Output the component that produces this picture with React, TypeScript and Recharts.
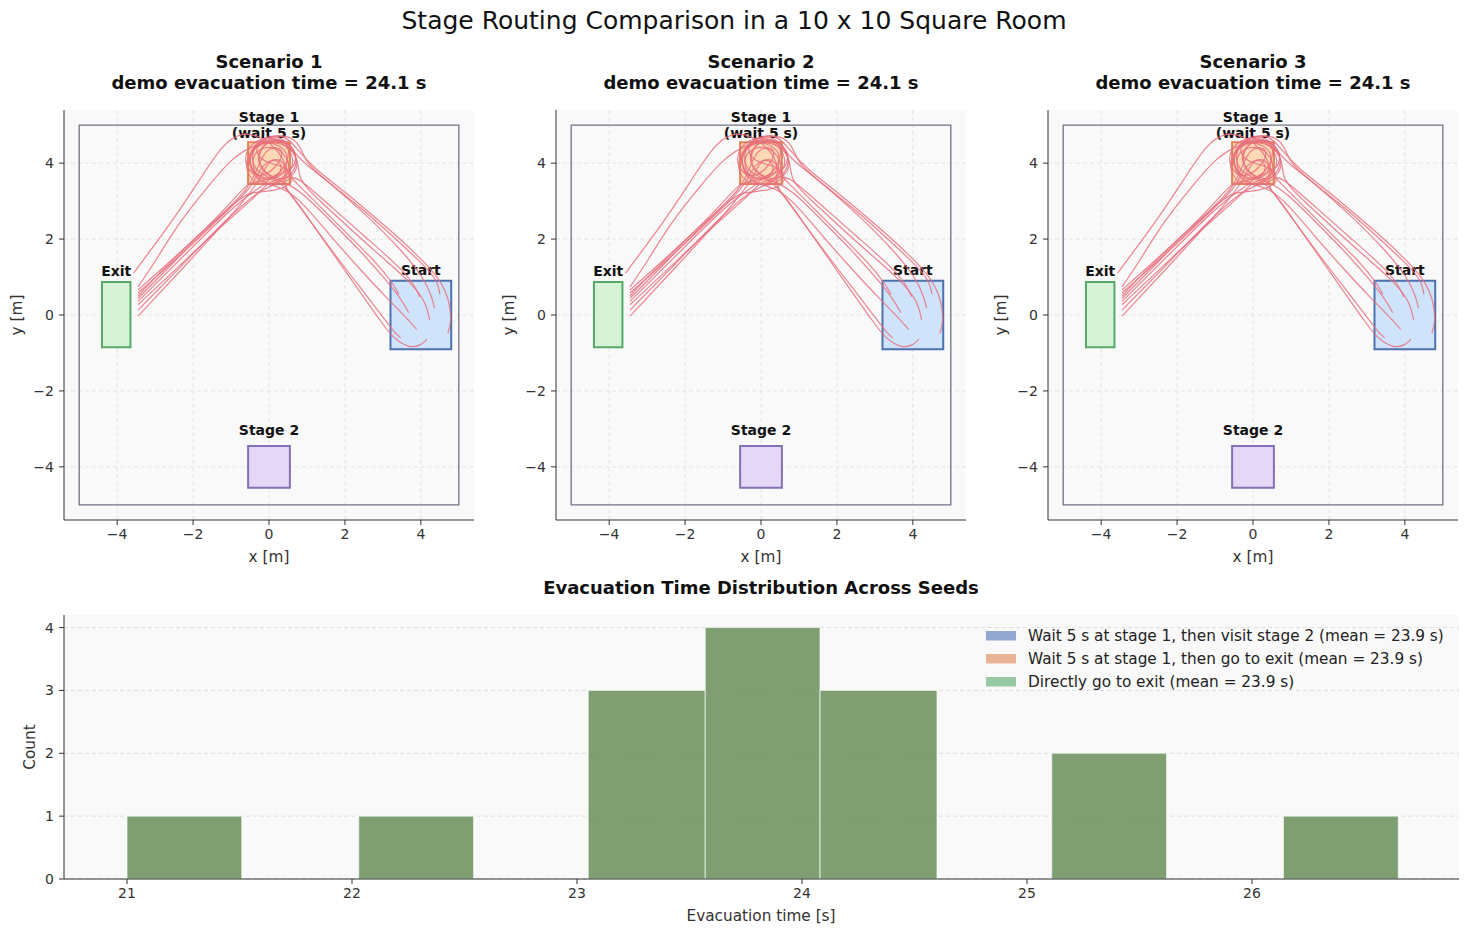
import React from 'react';
import { ComposedChart, Line, XAxis, YAxis, CartesianGrid, ReferenceArea } from 'recharts';

// ---- room panels ----
const SCENARIOS = ['Scenario 1', 'Scenario 2', 'Scenario 3'];
const DEMO_TIMES = [24.1, 24.1, 24.1];
const ROOM_TICKS = [-4, -2, 0, 2, 4];

// zone extents in metres: [x1, x2, y1, y2]
const ZONE_NAMES = ['start', 'exit', 'stage1', 'stage2'];
const ZONE_EXTENTS = [
  [3.2, 4.8, -0.9, 0.9],
  [-4.4, -3.65, -0.85, 0.87],
  [-0.55, 0.55, 3.45, 4.55],
  [-0.55, 0.55, -4.55, -3.45],
];
const ZONE_LABELS = [['Start'], ['Exit'], ['Stage 1', '(wait 5 s)'], ['Stage 2']];

// agent trajectories of the demo run, [x, y] in metres
const TRAJECTORIES: number[][][] = [
  [[4.71, -0.48], [4.8, -0.2], [4.77, 0.3], [4.55, 0.9], [3.9, 1.6], [3.0, 2.4], [2.0, 3.25], [1.2, 3.85], [0.75, 4.35], [0.4, 4.8], [-0.3, 4.65], [-0.65, 4.05], [-0.2, 3.5], [0.55, 3.7], [0.3, 4.3], [-0.25, 4.75], [-0.8, 4.8], [-1.25, 4.45], [-1.8, 3.6], [-2.6, 2.4], [-3.2, 1.6], [-3.57, 1.1]],
  [[4.36, 0.18], [4.3, 0.45], [4.1, 0.95], [3.5, 1.7], [2.6, 2.6], [1.7, 3.4], [1.0, 3.95], [0.7, 4.2], [0.45, 4.7], [-0.2, 4.55], [-0.35, 3.9], [0.35, 3.45], [0.85, 3.85], [0.6, 4.45], [0.0, 4.6], [-0.55, 4.4], [-1.0, 4.1], [-1.6, 3.4], [-2.4, 2.4], [-3.0, 1.4], [-3.45, 0.74]],
  [[4.5, 0.55], [4.45, 0.85], [4.2, 1.2], [3.4, 1.95], [2.4, 2.85], [1.5, 3.55], [0.95, 4.0], [0.8, 4.6], [0.25, 4.8], [-0.45, 4.5], [-0.2, 4.0], [0.45, 3.95], [0.75, 3.5], [0.15, 3.25], [-0.5, 3.25], [-0.85, 3.0], [-1.6, 2.35], [-2.5, 1.5], [-3.45, 0.66]],
  [[3.42, 0.55], [3.25, 0.85], [2.9, 1.3], [2.2, 2.0], [1.4, 2.8], [0.7, 3.5], [0.35, 3.85], [0.65, 4.45], [0.1, 4.75], [-0.55, 4.35], [-0.65, 3.7], [-0.15, 3.35], [0.55, 3.6], [0.35, 4.2], [-0.2, 4.0], [-0.4, 3.4], [-1.2, 2.65], [-2.3, 1.6], [-3.45, 0.58]],
  [[3.97, 0.48], [3.8, 0.85], [3.4, 1.3], [2.6, 2.0], [1.7, 2.8], [0.9, 3.5], [0.6, 3.7], [0.3, 3.35], [-0.4, 3.5], [-0.6, 4.25], [-0.05, 4.65], [0.6, 4.3], [0.35, 3.7], [-0.25, 3.5], [-0.55, 3.5], [-1.0, 2.95], [-2.0, 1.95], [-2.9, 1.1], [-3.45, 0.5]],
  [[4.23, -0.13], [4.15, 0.3], [3.8, 0.8], [3.0, 1.5], [2.1, 2.3], [1.3, 3.05], [0.75, 3.55], [0.8, 4.15], [0.35, 4.65], [-0.35, 4.7], [-0.75, 4.1], [-0.35, 3.55], [0.2, 3.85], [0.45, 4.4], [-0.05, 4.45], [-0.3, 3.9], [-0.5, 3.35], [-1.4, 2.5], [-2.5, 1.4], [-3.45, 0.44]],
  [[3.68, 0.06], [3.5, 0.4], [3.1, 0.9], [2.4, 1.7], [1.6, 2.5], [0.9, 3.2], [0.45, 3.5], [-0.1, 3.65], [-0.4, 4.2], [0.05, 4.7], [0.75, 4.45], [0.7, 3.8], [0.1, 3.7], [-0.15, 3.4], [-0.35, 3.3], [-1.0, 2.8], [-2.1, 1.7], [-3.45, 0.36]],
  [[3.89, -0.38], [3.6, -0.05], [3.1, 0.45], [2.4, 1.2], [1.6, 2.1], [0.9, 2.95], [0.4, 3.35], [-0.15, 3.45], [-0.6, 3.95], [-0.35, 4.6], [0.35, 4.65], [0.75, 4.05], [0.4, 3.55], [0.0, 3.55], [-0.25, 3.2], [-1.2, 2.4], [-2.3, 1.35], [-3.45, 0.27]],
  [[4.16, -0.64], [4.0, -0.8], [3.7, -0.88], [3.25, -0.6], [2.9, -0.1], [2.4, 0.6], [1.7, 1.6], [1.0, 2.6], [0.5, 3.3], [0.15, 3.6], [-0.4, 3.75], [-0.5, 4.4], [0.05, 4.8], [0.65, 4.5], [0.8, 3.85], [0.25, 3.45], [-0.25, 3.3], [-1.1, 2.55], [-2.2, 1.4], [-3.45, 0.13]],
  [[3.47, -0.61], [3.3, -0.45], [3.0, -0.05], [2.5, 0.6], [1.8, 1.5], [1.1, 2.45], [0.6, 3.15], [0.3, 3.5], [0.65, 3.95], [0.2, 4.5], [-0.45, 4.35], [-0.45, 3.7], [0.1, 3.45], [0.45, 3.95], [0.0, 4.2], [-0.2, 3.55], [-1.1, 2.5], [-2.3, 1.2], [-3.45, -0.03]],
];

// ---- histogram ----
const BIN_EDGES = [21.0, 21.51, 22.03, 22.54, 23.05, 23.57, 24.08, 24.6, 25.11, 25.62, 26.14, 26.65];
const COUNTS_STAGE2 = [1, 0, 1, 0, 3, 4, 3, 0, 2, 0, 1];
const COUNTS_EXIT = [1, 0, 1, 0, 3, 4, 3, 0, 2, 0, 1];
const COUNTS_DIRECT = [1, 0, 1, 0, 3, 4, 3, 0, 2, 0, 1];
const SERIES_NAMES = [
  'Wait 5 s at stage 1, then visit stage 2',
  'Wait 5 s at stage 1, then go to exit',
  'Directly go to exit',
];
const SERIES_MEANS = [23.9, 23.9, 23.9];
const HIST_TICKS = [21, 22, 23, 24, 25, 26];
const COUNT_TICKS = [0, 1, 2, 3, 4];

const FONT = '"DejaVu Sans", Verdana, sans-serif';
const INK = '#333333';
const SERIES_COLORS = ['#4c72b0', '#dd8452', '#55a868'];
const ZONE_STYLE: Record<string, { fill: string; stroke: string; gap: number }> = {
  start: { fill: '#cfe3fa', stroke: '#4c72b0', gap: 6 },
  exit: { fill: '#d6f3d6', stroke: '#55a868', gap: 6 },
  stage1: { fill: '#fdd9b5', stroke: '#dd8452', gap: 4 },
  stage2: { fill: '#e4d8f6', stroke: '#8172b3', gap: 11 },
};
const PANEL_LEFTS = [64, 556, 1048];

const fmt = (v: number) => (v < 0 ? `\u2212${-v}` : `${v}`);
const tickStyle = { fill: INK, fontSize: 14, fontFamily: FONT };

const ZoneLabel = (props: any) => {
  const vb = props.viewBox || {};
  const lines: string[] = props.lines;
  const cx = vb.x + vb.width / 2;
  const base = vb.y - props.gap;
  return (
    <text textAnchor="middle" fontFamily={FONT} fontSize={14} fontWeight="bold" fill="#111">
      {lines.map((l, i) => (
        <tspan key={i} x={cx} y={base - (lines.length - 1 - i) * 16.6}>{l}</tspan>
      ))}
    </text>
  );
};

const RoomPanel = ({ index }: { index: number }) => (
  <div style={{ position: 'absolute', left: PANEL_LEFTS[index] - 64, top: 0 }}>
    <ComposedChart width={484} height={580} margin={{ top: 110, right: 10, bottom: 20, left: 4 }}>
      <CartesianGrid stroke="none" fill="#f9f9f9" horizontal={false} vertical={false} />
      <CartesianGrid stroke="#e3e3e3" strokeDasharray="4 3" fill="none" syncWithTicks />
      <XAxis type="number" dataKey="x" domain={[-5.4, 5.4]} ticks={ROOM_TICKS} allowDataOverflow
        tickFormatter={fmt} tick={tickStyle} fontSize={14} stroke={INK} tickSize={5} tickMargin={4} height={40} />
      <YAxis type="number" dataKey="y" domain={[-5.4, 5.4]} ticks={ROOM_TICKS} allowDataOverflow
        tickFormatter={fmt} tick={tickStyle} fontSize={14} stroke={INK} tickSize={5} tickMargin={5} width={60} />
      <ReferenceArea x1={-5} x2={5} y1={-5} y2={5} fill="none" stroke="#6e7585" strokeWidth={1.3} />
      {ZONE_NAMES.map((name, i) => {
        const [x1, x2, y1, y2] = ZONE_EXTENTS[i];
        const st = ZONE_STYLE[name];
        return (
          <ReferenceArea key={name} x1={x1} x2={x2} y1={y1} y2={y2} fill={st.fill} fillOpacity={1}
            stroke={st.stroke} strokeWidth={2}
            label={<ZoneLabel lines={ZONE_LABELS[i]} gap={st.gap} />} />
        );
      })}
      {TRAJECTORIES.map((t, i) => (
        <Line key={i} data={t.map(([x, y]) => ({ x, y }))} dataKey="y" type="basis" dot={false}
          activeDot={false} stroke="#e8707e" strokeWidth={1.2} strokeOpacity={0.85} isAnimationActive={false} />
      ))}
    </ComposedChart>
  </div>
);

const seriesCounts = [COUNTS_STAGE2, COUNTS_EXIT, COUNTS_DIRECT];

const Histogram = () => (
  <div style={{ position: 'absolute', left: 0, top: 560 }}>
    <ComposedChart width={1468} height={375} margin={{ top: 55, right: 9, bottom: 16, left: 4 }}>
      <CartesianGrid stroke="none" fill="#f9f9f9" horizontal={false} vertical={false} />
      <CartesianGrid vertical={false} stroke="#dddddd" strokeDasharray="4 3" fill="none" syncWithTicks />
      <XAxis type="number" dataKey="x" domain={[20.72, 26.92]} ticks={HIST_TICKS} allowDataOverflow
        tick={tickStyle} fontSize={14} stroke={INK} tickSize={5} tickMargin={4} height={40} />
      <YAxis type="number" domain={[0, 4.2]} ticks={COUNT_TICKS} allowDataOverflow
        tick={tickStyle} fontSize={14} stroke={INK} tickSize={5} tickMargin={5} width={60} />
      {seriesCounts.map((counts, s) =>
        counts.map((c, i) =>
          c > 0 ? (
            <ReferenceArea key={`${s}-${i}`} x1={BIN_EDGES[i]} x2={BIN_EDGES[i + 1]} y1={0} y2={c}
              fill={SERIES_COLORS[s]} fillOpacity={0.6} stroke="#ffffff" strokeOpacity={0.5} strokeWidth={1} />
          ) : null
        )
      )}
    </ComposedChart>
  </div>
);

export default function App() {
  return (
    <div style={{ position: 'absolute', left: 0, top: 0, width: 1468, height: 935, background: '#fff', fontFamily: FONT }}>
      {SCENARIOS.map((_, i) => <RoomPanel key={i} index={i} />)}
      <Histogram />
      <svg width={1468} height={935} style={{ position: 'absolute', left: 0, top: 0, pointerEvents: 'none' }}
        fontFamily={FONT}>
        <text x={734} y={29} textAnchor="middle" fontSize={25} fill="#111">
          Stage Routing Comparison in a 10 x 10 Square Room
        </text>
        {SCENARIOS.map((name, i) => {
          const cx = PANEL_LEFTS[i] + 205;
          return (
            <g key={name}>
              <text x={cx} y={68} textAnchor="middle" fontSize={18} fontWeight="bold" fill="#111">{name}</text>
              <text x={cx} y={89} textAnchor="middle" fontSize={18} fontWeight="bold" fill="#111">
                {`demo evacuation time = ${DEMO_TIMES[i].toFixed(1)} s`}
              </text>
              <text x={cx} y={562} textAnchor="middle" fontSize={15.3} fill={INK}>x [m]</text>
              <text x={PANEL_LEFTS[i] - 42} y={315} textAnchor="middle" fontSize={15.3} fill={INK}
                transform={`rotate(-90 ${PANEL_LEFTS[i] - 42} 315)`}>y [m]</text>
            </g>
          );
        })}
        <text x={761} y={594} textAnchor="middle" fontSize={18} fontWeight="bold" fill="#111">
          Evacuation Time Distribution Across Seeds
        </text>
        <text x={761} y={921} textAnchor="middle" fontSize={15.3} fill={INK}>Evacuation time [s]</text>
        <text x={35} y={747} textAnchor="middle" fontSize={15.3} fill={INK} transform="rotate(-90 35 747)">Count</text>
        {SERIES_NAMES.map((name, i) => (
          <g key={name}>
            <rect x={986} y={631 + i * 23} width={30} height={9.5} fill={SERIES_COLORS[i]} fillOpacity={0.6} />
            <text x={1028} y={641 + i * 23} fontSize={15.3} fill="#222">
              {`${name} (mean = ${SERIES_MEANS[i].toFixed(1)} s)`}
            </text>
          </g>
        ))}
      </svg>
    </div>
  );
}
